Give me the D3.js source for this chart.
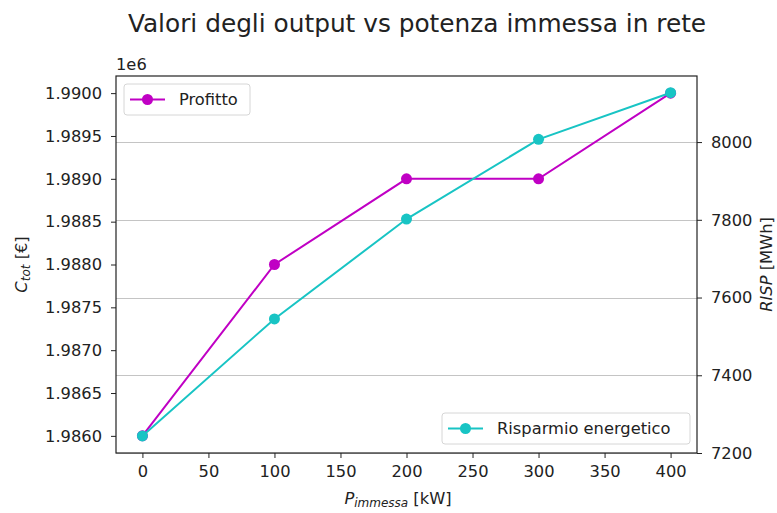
<!DOCTYPE html>
<html>
<head>
<meta charset="utf-8">
<script src="https://cdn.jsdelivr.net/npm/d3@7"></script>
<style>
  body { margin: 0; background: #fff; }
  text { font-family: "DejaVu Sans", sans-serif; fill: #222; }
</style>
</head>
<body>
<svg id="chart"></svg>
<script>
// data
let potenza = [0, 100, 200, 300, 400]
let profitto = [1986000, 1988000, 1989000, 1989000, 1990000]
let risparmio = [7244, 7545, 7802, 8007, 8127]

let xTicks = [0, 50, 100, 150, 200, 250, 300, 350, 400]
let leftTicks = [1.986, 1.9865, 1.987, 1.9875, 1.988, 1.9885, 1.989, 1.9895, 1.990]
let rightTicks = [7200, 7400, 7600, 7800, 8000]

let width = 777
let height = 513
let margin = {top: 76, right: 80, bottom: 60, left: 116}
let fontSize = 16.3

let colProfitto = '#c000c4'
let colRisparmio = '#18c4c4'

let svg = d3.select('#chart')
    .attr('width', width)
    .attr('height', height)

let xScale = d3.scaleLinear()
    .domain([-20, 420])
    .range([margin.left, width - margin.right])

// left axis shown in units of 1e6
let yLeft = d3.scaleLinear()
    .domain([1.9858, 1.9902])
    .range([height - margin.bottom, margin.top])

let yRight = d3.scaleLinear()
    .domain([7200, 8170])
    .range([height - margin.bottom, margin.top])

// grid from the right axis
svg.append('g')
    .selectAll('line')
    .data(rightTicks)
    .enter()
    .append('line')
    .attr('x1', margin.left)
    .attr('x2', width - margin.right)
    .attr('y1', (d) => Math.round(yRight(d)) + 0.5)
    .attr('y2', (d) => Math.round(yRight(d)) + 0.5)
    .attr('stroke', '#c4c4c4')
    .attr('stroke-width', 1.2)

let drawSeries = (values, yScale, colour) => {
    let line = d3.line()
        .x((d, i) => xScale(potenza[i]))
        .y((d) => yScale(d))
    svg.append('path')
        .datum(values)
        .attr('d', line)
        .attr('fill', 'none')
        .attr('stroke', colour)
        .attr('stroke-width', 2)
    svg.append('g')
        .selectAll('circle')
        .data(values)
        .enter()
        .append('circle')
        .attr('cx', (d, i) => xScale(potenza[i]))
        .attr('cy', (d) => yScale(d))
        .attr('r', 5.5)
        .attr('fill', colour)
}

drawSeries(profitto, (d) => yLeft(d / 1e6), colProfitto)
drawSeries(risparmio, yRight, colRisparmio)

// axes
let xAxis = d3.axisBottom(xScale)
    .tickValues(xTicks)
    .tickSize(5)
    .tickPadding(7)
let leftAxis = d3.axisLeft(yLeft)
    .tickValues(leftTicks)
    .tickFormat(d3.format('.4f'))
    .tickSize(5)
    .tickPadding(9)
let rightAxis = d3.axisRight(yRight)
    .tickValues(rightTicks)
    .tickFormat(d3.format('d'))
    .tickSize(5)
    .tickPadding(9)

let styleAxis = (g) => {
    g.select('.domain').remove()
    g.selectAll('line').attr('stroke', '#222').attr('stroke-width', 1)
    g.selectAll('text').attr('font-size', fontSize).attr('fill', '#222')
}

svg.append('g')
    .attr('transform', 'translate(0,' + (height - margin.bottom) + ')')
    .call(xAxis)
    .call(styleAxis)
svg.append('g')
    .attr('transform', 'translate(' + margin.left + ',0)')
    .call(leftAxis)
    .call(styleAxis)
svg.append('g')
    .attr('transform', 'translate(' + (width - margin.right) + ',0)')
    .call(rightAxis)
    .call(styleAxis)

// frame
svg.append('rect')
    .attr('x', margin.left)
    .attr('y', margin.top)
    .attr('width', width - margin.left - margin.right)
    .attr('height', height - margin.top - margin.bottom)
    .attr('fill', 'none')
    .attr('stroke', '#222')
    .attr('stroke-width', 1.2)

// texts
svg.append('text')
    .attr('x', 417)
    .attr('y', 32)
    .attr('text-anchor', 'middle')
    .attr('font-size', 24.8)
    .text('Valori degli output vs potenza immessa in rete')

svg.append('text')
    .attr('x', margin.left)
    .attr('y', 70)
    .attr('font-size', fontSize)
    .text('1e6')

let xLabel = svg.append('text')
    .attr('x', 398)
    .attr('y', 504)
    .attr('text-anchor', 'middle')
    .attr('font-size', fontSize)
xLabel.append('tspan').attr('font-style', 'italic').text('P')
xLabel.append('tspan').attr('font-style', 'italic').attr('font-size', 12).attr('dy', 3).text('immessa')
xLabel.append('tspan').attr('dy', -3).text(' [kW]')

let yLabel = svg.append('text')
    .attr('transform', 'translate(27,' + ((margin.top + height - margin.bottom) / 2) + ') rotate(-90)')
    .attr('text-anchor', 'middle')
    .attr('font-size', fontSize)
yLabel.append('tspan').attr('font-style', 'italic').text('C')
yLabel.append('tspan').attr('font-style', 'italic').attr('font-size', 12).attr('dy', 3).text('tot')
yLabel.append('tspan').attr('dy', -3).text(' [€]')

let rLabel = svg.append('text')
    .attr('transform', 'translate(772,' + ((margin.top + height - margin.bottom) / 2) + ') rotate(-90)')
    .attr('text-anchor', 'middle')
    .attr('font-size', fontSize)
rLabel.append('tspan').attr('font-style', 'italic').text('RISP')
rLabel.append('tspan').text(' [MWh]')

// legends
let drawLegend = (x, y, w, label, colour) => {
    let g = svg.append('g').attr('transform', 'translate(' + x + ',' + y + ')')
    g.append('rect')
        .attr('width', w)
        .attr('height', 31)
        .attr('rx', 3)
        .attr('fill', 'white')
        .attr('fill-opacity', 0.8)
        .attr('stroke', '#d6d6d6')
    g.append('line')
        .attr('x1', 6).attr('x2', 41)
        .attr('y1', 15.5).attr('y2', 15.5)
        .attr('stroke', colour)
        .attr('stroke-width', 2)
    g.append('circle')
        .attr('cx', 23.5).attr('cy', 15.5)
        .attr('r', 5.5)
        .attr('fill', colour)
    g.append('text')
        .attr('x', 55)
        .attr('y', 21)
        .attr('font-size', fontSize)
        .text(label)
}

drawLegend(124, 84, 126, 'Profitto', colProfitto)
drawLegend(442, 413, 248, 'Risparmio energetico', colRisparmio)
</script>
</body>
</html>
